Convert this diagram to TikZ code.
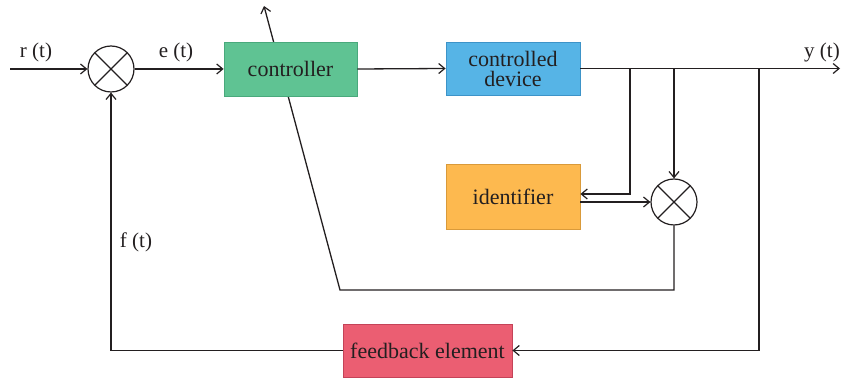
\documentclass[tikz,border=0pt]{standalone}
\usepackage{fontspec}
\setmainfont{Liberation Serif}
\newfontfamily\boxfont{Liberation Serif}
\usetikzlibrary{arrows.meta,backgrounds}
\definecolor{ink}{HTML}{231F20}
\definecolor{cgreen}{HTML}{5FC393}
\definecolor{cgreenD}{HTML}{49A97C}
\definecolor{cblue}{HTML}{56B4E6}
\definecolor{cblueD}{HTML}{3D93C8}
\definecolor{corange}{HTML}{FDB94F}
\definecolor{corangeD}{HTML}{D99A3A}
\definecolor{cpink}{HTML}{EB5E72}
\definecolor{cpinkD}{HTML}{C44358}
\begin{document}
\begin{tikzpicture}[x=1pt,y=-1pt,
  every node/.style={font=\rmfamily\fontsize{21}{23}\selectfont, text=ink},
  blk/.style={draw, line width=0.8pt, rectangle, align=center, inner sep=2pt, font=\boxfont\fontsize{22}{23}\selectfont},
  sumnode/.style={draw=ink, line width=1.2pt, circle, minimum size=46pt, inner sep=0pt,
    path picture={\draw[ink, line width=1.2pt] (path picture bounding box.north west) -- (path picture bounding box.south east)
      (path picture bounding box.north east) -- (path picture bounding box.south west);}},
  arr/.style={draw=ink, line width=1.3pt, -{Straight Barb[length=6pt,width=10pt,line width=1.2pt]}},
  lbl/.style={inner sep=0pt}]
\useasboundingbox (0,0) rectangle (841,379);
% blocks
\node[blk, fill=cgreen, draw=cgreenD, minimum width=133pt, minimum height=54pt] (ctrl) at (290.5,69) {controller};
\node[blk, fill=cblue, draw=cblueD, minimum width=134pt, minimum height=53pt] (dev) at (513,68.5) {controlled\\[-3pt]device};
\node[blk, fill=corange, draw=corangeD, minimum width=134pt, minimum height=65pt] (id) at (513,196.5) {identifier};
\node[blk, fill=cpink, draw=cpinkD, minimum width=169pt, minimum height=53pt] (fb) at (427.5,350.5) {feedback element};
\node[sumnode] (s1) at (111,69) {};
\node[sumnode] (s2) at (674,202) {};
% labels
\node[lbl] (lr) at (36,52) {r (t)};
\node[lbl] (le) at (176,52) {e (t)};
\node[lbl] (ly) at (822,52) {y (t)};
\node[lbl] (lf) at (136,242) {f (t)};
% coordinates
\coordinate (rin) at (10,69);
\coordinate (yout) at (840,68.5);
\coordinate (b1) at (630,68.5);
\coordinate (b2) at (674,68.5);
\coordinate (b3) at (759,68.5);
\coordinate (b1d) at (630,194);
\coordinate (cn) at (340,290);
\coordinate (tip) at (264,6);
% connectors
\draw[arr] (rin) -- (s1.west);
\draw[arr] (s1.east) -- (ctrl.west);
\draw[arr] (ctrl.east) -- (dev.west);
\draw[arr] (dev.east) -- (yout);
\draw[arr] (b1) -- (b1d) -- (b1d -| id.east);
\draw[arr] (b2) -- (s2.north);
\draw[arr] (id.east |- s2) -- (s2.west);
\draw[arr] (b3) |- (fb.east);
\draw[arr] (fb.west) -| (s1.south);
\begin{scope}[on background layer]
\draw[arr] (s2.south) |- (cn) -- (tip);
\end{scope}
\end{tikzpicture}
\end{document}
